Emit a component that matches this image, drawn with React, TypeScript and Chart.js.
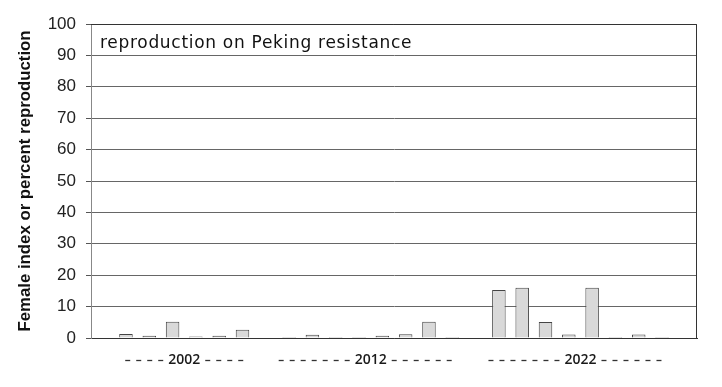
import React, { useEffect, useRef } from "react";
import { Chart, registerables } from "chart.js";

Chart.register(...registerables);

// 26 category slots: empty, 2002 (6), empty, 2012 (8), empty, 2022 (8), empty
const groupNames = ["2002", "2012", "2022"];
const labelSlots = [3, 11, 20];
const dashesBefore = [4, 7, 7];
const dashesAfter = [4, 6, 6];

const values2002 = [1.3, 0.7, 5.2, 0.5, 0.7, 2.6];
const values2012 = [0.3, 1.0, 0.3, 0.3, 0.7, 1.2, 5.2, 0.3];
const values2022 = [15.3, 16.0, 5.1, 1.1, 16.0, 0.3, 1.1, 0.3];

const yTicks = [0, 10, 20, 30, 40, 50, 60, 70, 80, 90, 100];
const chartTitle = "reproduction on Peking resistance";
const yTitle = "Female index or percent reproduction";

const data: (number | null)[] = [
  null,
  ...values2002,
  null,
  ...values2012,
  null,
  ...values2022,
  null,
];
const categories: string[] = data.map(() => "");

const framePlugin = {
  id: "frame",
  afterDraw(chart: any) {
    const { ctx, chartArea } = chart;
    const xs = chart.scales.x;
    ctx.save();
    // frame top/right
    ctx.strokeStyle = "#333";
    ctx.lineWidth = 1;
    ctx.beginPath();
    ctx.moveTo(chartArea.left, chartArea.top + 0.5);
    ctx.lineTo(chartArea.right - 0.5, chartArea.top + 0.5);
    ctx.lineTo(chartArea.right - 0.5, chartArea.bottom);
    ctx.stroke();
    // in-plot title
    ctx.fillStyle = "#111";
    ctx.font = "17px 'DejaVu Sans'";
    (ctx as any).letterSpacing = "0.7px";
    ctx.textAlign = "left";
    ctx.textBaseline = "alphabetic";
    ctx.fillText(chartTitle, chartArea.left + 9, chartArea.top + 24);
    (ctx as any).letterSpacing = "0px";
    // group labels under the x axis
    const half = (xs.getPixelForValue(1) - xs.getPixelForValue(0)) / 2;
    const y = chartArea.bottom + 22;
    ctx.font = "600 14px 'Open Sans'";
    ctx.textAlign = "center";
    ctx.textBaseline = "middle";
    ctx.strokeStyle = "#333";
    ctx.lineWidth = 1.3;
    const period = 11;
    const dash = 5;
    const gap = 5;
    groupNames.forEach((name, i) => {
      const cx = xs.getPixelForValue(labelSlots[i]) + half;
      ctx.fillStyle = "#1a1a1a";
      ctx.fillText(name, cx, y);
      const w = ctx.measureText(name).width;
      let start = cx - w / 2 - gap - dash;
      for (let k = 0; k < dashesBefore[i]; k++) {
        const x0 = start - k * period;
        ctx.beginPath();
        ctx.moveTo(x0, y + 0.5);
        ctx.lineTo(x0 + dash, y + 0.5);
        ctx.stroke();
      }
      start = cx + w / 2 + gap;
      for (let k = 0; k < dashesAfter[i]; k++) {
        const x0 = start + k * period;
        ctx.beginPath();
        ctx.moveTo(x0, y + 0.5);
        ctx.lineTo(x0 + dash, y + 0.5);
        ctx.stroke();
      }
    });
    ctx.restore();
  },
};

export default function App() {
  const ref = useRef<HTMLCanvasElement | null>(null);
  useEffect(() => {
    if (!ref.current) return;
    const chart = new Chart(ref.current, {
      type: "bar",
      data: {
        labels: categories,
        datasets: [
          {
            label: "reproduction",
            data,
            backgroundColor: "#d9d9d9",
            borderColor: "#444",
            borderWidth: 1,
            categoryPercentage: 1,
            barPercentage: 0.58,
          },
        ],
      },
      options: {
        animation: false,
        responsive: false,
        layout: { padding: { left: 0, right: 25, top: 24, bottom: 0 } },
        plugins: {
          legend: { display: false },
          tooltip: { enabled: false },
        },
        scales: {
          x: {
            grid: { display: false, drawTicks: false },
            border: { display: true, color: "#333", width: 1 },
            ticks: { display: false },
            afterFit: (s: any) => {
              s.height = 49;
            },
          },
          y: {
            min: 0,
            max: 100,
            afterBuildTicks: (s: any) => {
              s.ticks = yTicks.map((v) => ({ value: v }));
            },
            grid: {
              color: "#666",
              lineWidth: 1,
              tickLength: 5,
              tickColor: "#555",
            },
            border: { display: true, color: "#888", width: 1 },
            ticks: {
              padding: 10,
              color: "#222",
              font: { family: "'Liberation Sans'", size: 17 },
            },
            title: {
              display: true,
              text: yTitle,
              color: "#111",
              font: { family: "'Liberation Sans'", size: 16.8, weight: "bold" },
              padding: { top: 15, bottom: 0 },
            },
            afterFit: (s: any) => {
              s.width = 91;
            },
          },
        },
      },
      plugins: [framePlugin],
    });
    return () => chart.destroy();
  }, []);
  return (
    <div style={{ position: "fixed", left: 0, top: 0, width: 722, height: 387, background: "#fff" }}>
      <canvas ref={ref} width={722} height={387} />
    </div>
  );
}
